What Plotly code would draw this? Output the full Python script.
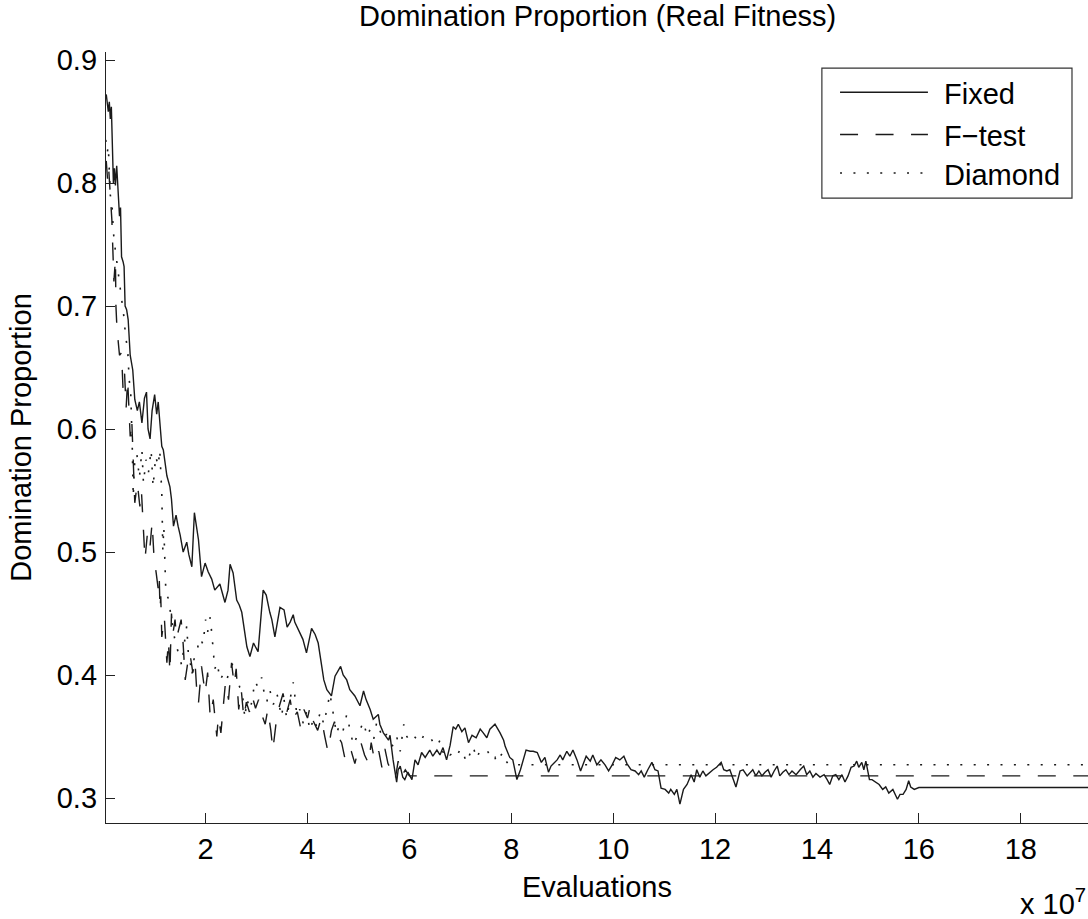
import plotly.graph_objects as go

# Evaluations in units of 1e7
fixed_x = [0.05, 0.07, 0.09, 0.11, 0.13, 0.15, 0.17, 0.19, 0.21, 0.23, 0.255, 0.28, 0.31, 0.33, 0.35, 0.38,
           0.40, 0.42, 0.45, 0.48, 0.52, 0.57, 0.61, 0.66, 0.70, 0.75, 0.80, 0.84, 0.87, 0.91, 0.95, 1.00,
           1.04, 1.07, 1.11, 1.14, 1.17, 1.24, 1.30, 1.33, 1.37, 1.42, 1.46, 1.50, 1.56, 1.63, 1.67, 1.73,
           1.78, 1.81, 1.86, 1.92, 1.99, 2.05, 2.12, 2.18, 2.28, 2.38, 2.44, 2.48, 2.54, 2.61, 2.66, 2.71,
           2.74, 2.81, 2.87, 2.94, 2.99, 3.03, 3.13, 3.19, 3.26, 3.30, 3.36, 3.46, 3.54, 3.60, 3.66, 3.72,
           3.75, 3.85, 3.91, 3.98, 4.08, 4.15, 4.21, 4.28, 4.32, 4.38, 4.47, 4.54, 4.65, 4.70, 4.77, 4.83,
           4.93, 5.03, 5.10, 5.15, 5.23, 5.29, 5.39, 5.42, 5.49, 5.59, 5.62, 5.68, 5.75, 5.78, 5.82, 5.87,
           5.91, 5.97, 6.05, 6.11, 6.17, 6.24, 6.31, 6.40, 6.46, 6.54, 6.60, 6.66, 6.73, 6.80, 6.86, 6.91,
           6.96, 7.03, 7.09, 7.16, 7.23, 7.31, 7.39, 7.45, 7.52, 7.58, 7.68, 7.78, 7.85, 7.88, 7.97, 8.03,
           8.11, 8.18, 8.23, 8.29, 8.37, 8.43, 8.51, 8.59, 8.66, 8.73, 8.78, 8.85, 8.90, 8.96, 9.01, 9.09,
           9.15, 9.21, 9.29, 9.36, 9.41, 9.47, 9.55, 9.60, 9.68, 9.76, 9.84, 9.91, 9.98, 10.05, 10.13, 10.21,
           10.27, 10.35, 10.43, 10.50, 10.55, 10.61, 10.68, 10.76, 10.82, 10.88, 10.94, 11.02, 11.09, 11.13,
           11.20, 11.25, 11.31, 11.38, 11.45, 11.53, 11.59, 11.64, 11.70, 11.76, 11.82, 11.90, 11.96, 12.03,
           12.12, 12.17, 12.23, 12.29, 12.35, 12.41, 12.49, 12.55, 12.63, 12.69, 12.74, 12.80, 12.86, 12.92,
           12.98, 13.04, 13.10, 13.16, 13.22, 13.27, 13.33, 13.39, 13.45, 13.51, 13.59, 13.67, 13.74, 13.80,
           13.86, 13.92, 13.98, 14.06, 14.14, 14.20, 14.25, 14.31, 14.37, 14.43, 14.49, 14.55, 14.61, 14.67,
           14.73, 14.78, 14.82, 14.88, 14.92, 14.96, 15.03, 15.08, 15.16, 15.22, 15.29, 15.35, 15.41, 15.49,
           15.58, 15.63, 15.69, 15.75, 15.80, 15.84, 15.91, 15.98, 16.00, 19.32]
fixed_y = [0.872, 0.862, 0.858, 0.866, 0.852, 0.862, 0.830, 0.800, 0.812, 0.798, 0.814, 0.790, 0.773, 0.780, 0.740, 0.736,
           0.732, 0.700, 0.697, 0.689, 0.660, 0.648, 0.624, 0.615, 0.622, 0.605, 0.625, 0.630, 0.600, 0.592, 0.615, 0.628,
           0.612, 0.622, 0.600, 0.586, 0.583, 0.562, 0.553, 0.543, 0.521, 0.530, 0.521, 0.514, 0.500, 0.508, 0.498, 0.488,
           0.532, 0.523, 0.510, 0.480, 0.491, 0.484, 0.478, 0.469, 0.474, 0.459, 0.469, 0.490, 0.483, 0.461, 0.457, 0.451,
           0.443, 0.423, 0.415, 0.426, 0.422, 0.419, 0.469, 0.465, 0.451, 0.445, 0.431, 0.455, 0.453, 0.439, 0.443, 0.449,
           0.443, 0.435, 0.429, 0.418, 0.438, 0.433, 0.426, 0.407, 0.396, 0.388, 0.383, 0.399, 0.407, 0.400, 0.396, 0.388,
           0.383, 0.375, 0.387, 0.380, 0.372, 0.364, 0.368, 0.360, 0.353, 0.347, 0.351, 0.331, 0.313, 0.323, 0.326, 0.317,
           0.315, 0.321, 0.315, 0.331, 0.327, 0.337, 0.333, 0.339, 0.334, 0.339, 0.335, 0.341, 0.331, 0.343, 0.358, 0.356,
           0.360, 0.354, 0.357, 0.345, 0.351, 0.349, 0.356, 0.353, 0.349, 0.356, 0.360, 0.353, 0.347, 0.342, 0.333, 0.331,
           0.315, 0.323, 0.331, 0.339, 0.338, 0.338, 0.337, 0.329, 0.333, 0.321, 0.326, 0.329, 0.331, 0.335, 0.331, 0.338,
           0.334, 0.339, 0.331, 0.322, 0.327, 0.334, 0.330, 0.335, 0.327, 0.331, 0.327, 0.322, 0.327, 0.333, 0.331, 0.334,
           0.328, 0.323, 0.322, 0.319, 0.322, 0.317, 0.323, 0.329, 0.323, 0.322, 0.308, 0.307, 0.304, 0.307,
           0.303, 0.307, 0.295, 0.307, 0.311, 0.319, 0.313, 0.323, 0.317, 0.322, 0.318, 0.321, 0.323, 0.325,
           0.329, 0.323, 0.322, 0.323, 0.315, 0.309, 0.322, 0.323, 0.318, 0.321, 0.323, 0.318, 0.322, 0.318,
           0.321, 0.323, 0.317, 0.322, 0.326, 0.318, 0.321, 0.323, 0.319, 0.322, 0.319, 0.323, 0.326, 0.319,
           0.322, 0.317, 0.320, 0.317, 0.319, 0.315, 0.311, 0.318, 0.319, 0.315, 0.319, 0.313, 0.318, 0.325,
           0.326, 0.330, 0.325, 0.329, 0.323, 0.330, 0.315, 0.315, 0.313, 0.311, 0.307, 0.309, 0.304, 0.307,
           0.299, 0.303, 0.303, 0.307, 0.314, 0.309, 0.307, 0.308, 0.3085, 0.3085]

ftest_x = [0.05, 0.08, 0.10, 0.13, 0.16, 0.18, 0.20, 0.23, 0.24, 0.26, 0.28, 0.31, 0.35, 0.38, 0.41, 0.44, 0.47,
           0.52, 0.55, 0.58, 0.61, 0.66, 0.71, 0.74, 0.77, 0.81, 0.86, 0.91, 0.95, 0.99, 1.03, 1.07, 1.09,
           1.105, 1.12, 1.14, 1.19, 1.24, 1.27, 1.30, 1.33, 1.36, 1.40, 1.43, 1.46, 1.52, 1.56, 1.60, 1.65,
           1.69, 1.75, 1.79, 1.83, 1.86, 1.92, 1.96, 1.99, 2.04, 2.09, 2.15, 2.22, 2.25, 2.30, 2.39, 2.45,
           2.51, 2.56, 2.60, 2.65, 2.70, 2.75, 2.80, 2.86, 2.92, 2.98, 3.04, 3.10, 3.17, 3.22, 3.28, 3.32,
           3.38, 3.45, 3.52, 3.59, 3.66, 3.72, 3.80, 3.86, 3.93, 4.00, 4.05, 4.12, 4.20, 4.27, 4.34, 4.40,
           4.47, 4.53, 4.60, 4.67, 4.73, 4.80, 4.86, 4.93, 5.00, 5.05, 5.12, 5.20, 5.25, 5.32, 5.40, 5.46,
           5.52, 5.58, 5.65, 5.72, 5.78, 5.85, 5.92, 6.00, 19.32]
ftest_y = [0.818, 0.800, 0.810, 0.790, 0.770, 0.745, 0.720, 0.738, 0.700, 0.682, 0.672, 0.660, 0.662, 0.632, 0.645, 0.617, 0.640,
           0.594, 0.608, 0.570, 0.540, 0.556, 0.537, 0.550, 0.520, 0.494, 0.516, 0.505, 0.524, 0.494, 0.483, 0.470, 0.480,
           0.453, 0.464, 0.431, 0.447, 0.410, 0.428, 0.402, 0.450, 0.434, 0.445, 0.430, 0.435, 0.445, 0.425, 0.396, 0.410,
           0.418, 0.402, 0.412, 0.385, 0.377, 0.407, 0.396, 0.385, 0.402, 0.366, 0.380, 0.350, 0.366, 0.353, 0.394, 0.380,
           0.410, 0.392, 0.405, 0.372, 0.388, 0.365, 0.378, 0.370, 0.382, 0.373, 0.380, 0.368, 0.360, 0.372, 0.355, 0.339,
           0.360, 0.375, 0.385, 0.369, 0.380, 0.365, 0.370, 0.358, 0.372, 0.365, 0.374, 0.362, 0.355, 0.365, 0.350, 0.338,
           0.355, 0.362, 0.350, 0.345, 0.333, 0.342, 0.338, 0.328, 0.340, 0.345, 0.335, 0.328, 0.345, 0.330, 0.338, 0.325,
           0.340, 0.328, 0.322, 0.315, 0.330, 0.318, 0.323, 0.318, 0.318]

diamond_x = [0.04, 0.07, 0.09, 0.11, 0.13, 0.16, 0.19, 0.22, 0.26, 0.30, 0.33, 0.36, 0.40, 0.43, 0.47, 0.50, 0.53,
             0.56, 0.58, 0.60, 0.65, 0.70, 0.75, 0.78, 0.83, 0.88, 0.93, 0.97, 1.02, 1.07, 1.10, 1.14, 1.16,
             1.18, 1.20, 1.22, 1.27, 1.30, 1.35, 1.40, 1.45, 1.53, 1.58, 1.63, 1.66, 1.70, 1.73, 1.78, 1.83,
             1.89, 1.95, 2.00, 2.04, 2.09, 2.13, 2.18, 2.23, 2.28, 2.34, 2.41, 2.47, 2.54, 2.60, 2.67, 2.72,
             2.77, 2.81, 2.88, 2.97, 3.03, 3.10, 3.15, 3.20, 3.26, 3.33, 3.40, 3.49, 3.54, 3.59, 3.65, 3.72,
             3.76, 3.79, 3.85, 3.92, 3.98, 4.05, 4.12, 4.18, 4.25, 4.32, 4.38, 4.44, 4.50, 4.57, 4.63, 4.70,
             4.77, 4.84, 4.90, 4.97, 5.03, 5.10, 5.17, 5.23, 5.30, 5.36, 5.42, 5.49, 5.55, 5.62, 5.68, 5.75,
             5.82, 5.89, 5.95, 6.01, 6.10, 6.20, 6.30, 6.40, 6.47, 6.54, 6.60, 6.67, 6.74, 6.80, 6.87, 6.93,
             7.00, 7.06, 7.12, 7.18, 7.25, 7.32, 7.38, 7.45, 7.52, 7.58, 7.62, 7.68, 7.71, 7.78, 7.84, 7.90,
             7.95, 19.32]
diamond_y = [0.835, 0.825, 0.830, 0.810, 0.790, 0.785, 0.760, 0.748, 0.735, 0.725, 0.715, 0.705, 0.690, 0.675, 0.665, 0.640, 0.630,
             0.586, 0.545, 0.570, 0.580, 0.560, 0.583, 0.556, 0.575, 0.565, 0.583, 0.553, 0.578, 0.570, 0.583, 0.548, 0.502,
             0.520, 0.490, 0.467, 0.462, 0.455, 0.440, 0.428, 0.420, 0.408, 0.425, 0.440, 0.418, 0.410, 0.400, 0.415, 0.420,
             0.430, 0.425, 0.445, 0.435, 0.447, 0.430, 0.405, 0.410, 0.396, 0.400, 0.395, 0.404, 0.410, 0.400, 0.390, 0.386,
             0.365, 0.380, 0.372, 0.395, 0.390, 0.398, 0.385, 0.378, 0.388, 0.376, 0.385, 0.366, 0.380, 0.365, 0.378, 0.394,
             0.380, 0.367, 0.372, 0.360, 0.370, 0.355, 0.365, 0.358, 0.370, 0.360, 0.372, 0.385, 0.370, 0.352, 0.360, 0.355,
             0.368, 0.355, 0.343, 0.350, 0.356, 0.362, 0.350, 0.356, 0.348, 0.362, 0.355, 0.348, 0.352, 0.345, 0.342, 0.350,
             0.338, 0.360, 0.350, 0.346, 0.350, 0.345, 0.352, 0.350, 0.345, 0.342, 0.347, 0.336, 0.339, 0.335, 0.337, 0.334,
             0.340, 0.336, 0.329, 0.335, 0.342, 0.332, 0.338, 0.337, 0.339, 0.335, 0.331, 0.333, 0.329, 0.334, 0.337, 0.330,
             0.327, 0.327]

x_tick_vals = [2, 4, 6, 8, 10, 12, 14, 16, 18]
y_tick_vals = [0.3, 0.4, 0.5, 0.6, 0.7, 0.8, 0.9]
series_names = ["Fixed", "F\u2212test", "Diamond"]

FONT = "Liberation Sans, Arial, Helvetica, sans-serif"
FS = 29
INK = "#1a1a1a"
DASH = "18px,17.5px"
DOT = "2px,11.4px"

fig = go.Figure()
fig.add_trace(go.Scatter(x=diamond_x, y=diamond_y, mode="lines", name=series_names[2],
                         line=dict(color=INK, width=1.6, dash=DOT)))
fig.add_trace(go.Scatter(x=ftest_x, y=ftest_y, mode="lines", name=series_names[1],
                         line=dict(color=INK, width=1.4, dash=DASH)))
fig.add_trace(go.Scatter(x=fixed_x, y=fixed_y, mode="lines", name=series_names[0],
                         line=dict(color=INK, width=1.4)))

# custom MATLAB-like legend (paper coordinates)
lx0, lx1 = 0.729, 0.9837
ly0, ly1 = 0.8106, 0.9792
rows = [0.9477, 0.893, 0.843]
styles = ["solid", DASH, DOT]
shapes = [dict(type="rect", xref="paper", yref="paper", x0=lx0, x1=lx1, y0=ly0, y1=ly1,
               line=dict(color="#333", width=1.2), fillcolor="white", layer="above")]
annotations = []
for name, yy, st in zip(series_names, rows, styles):
    shapes.append(dict(type="line", xref="paper", yref="paper", x0=0.7475, x1=0.837, y0=yy, y1=yy,
                       line=dict(color=INK, width=1.4, dash=st), layer="above"))
    annotations.append(dict(xref="paper", yref="paper", x=0.8513, y=yy - 0.002, text=name, showarrow=False,
                            xanchor="left", yanchor="middle", font=dict(size=FS, family=FONT, color="black")))

annotations.append(dict(xref="paper", yref="paper", x=1.0, y=-0.077, text="x 10<sup>7</sup>", showarrow=False,
                        xanchor="right", yanchor="top", font=dict(size=FS, family=FONT, color="black")))

fig.update_layout(
    width=1088, height=919,
    margin=dict(l=106, r=0, t=52, b=96),
    paper_bgcolor="white", plot_bgcolor="white",
    showlegend=False,
    font=dict(family=FONT, size=FS, color="black"),
    title=dict(text="Domination Proportion (Real Fitness)", x=0.5493, xanchor="center",
               y=0.9935, yanchor="top", font=dict(size=FS, family=FONT, color="black")),
    shapes=shapes,
    annotations=annotations,
)
fig.update_xaxes(range=[0.045, 19.32], tickvals=x_tick_vals, ticktext=[str(v) for v in x_tick_vals],
                 ticks="inside", ticklen=10, tickwidth=1.3, tickcolor="#222",
                 showline=True, linecolor="#222", linewidth=1.3, mirror=False,
                 showgrid=False, zeroline=False,
                 title=dict(text="Evaluations", standoff=12, font=dict(size=FS, family=FONT)),
                 tickfont=dict(size=FS, family=FONT))
fig.update_yaxes(range=[0.2797, 0.9065], tickvals=y_tick_vals, ticktext=["%.1f" % v for v in y_tick_vals],
                 ticks="inside", ticklen=9, tickwidth=1.3, tickcolor="#222",
                 showline=True, linecolor="#222", linewidth=1.3, mirror=False,
                 showgrid=False, zeroline=False,
                 title=dict(text="Domination Proportion", standoff=16, font=dict(size=FS, family=FONT)),
                 tickfont=dict(size=FS, family=FONT), ticklabelstandoff=2)

fig.write_html("out.html")
